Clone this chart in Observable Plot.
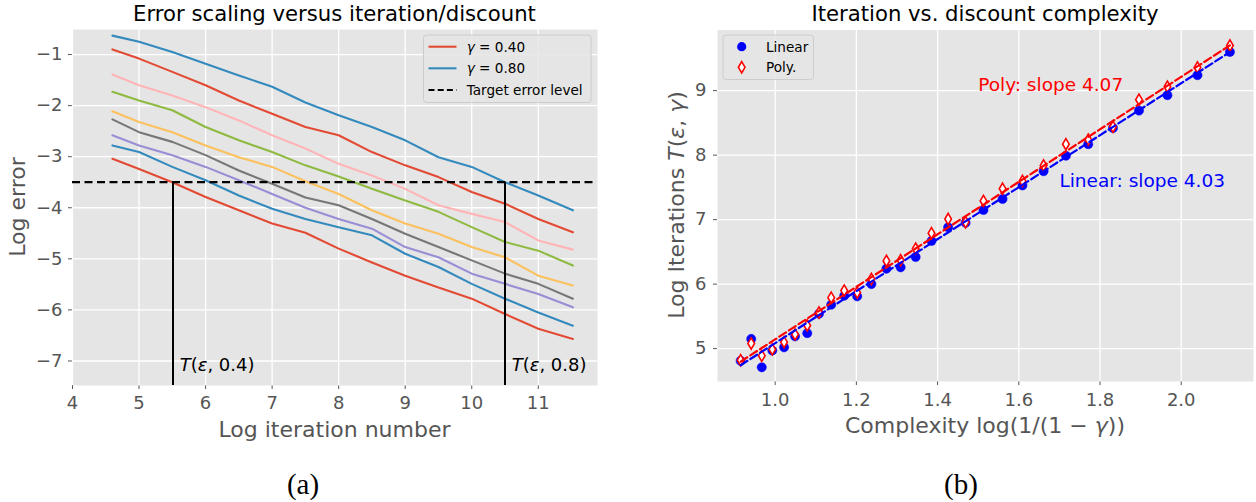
<!DOCTYPE html>
<html><head><meta charset="utf-8">
<script src="https://cdn.jsdelivr.net/npm/d3@7"></script>
<script src="https://cdn.jsdelivr.net/npm/@observablehq/plot@0.6"></script>
<style>
body{margin:0;background:#fff;font-family:"DejaVu Sans",sans-serif;}
#root{position:relative;width:1256px;height:502px;overflow:hidden;background:#fff;}
#root > svg{position:absolute;top:0;}
</style></head><body><div id="root"></div>
<script>
// ---------- Panel (a) data ----------
const xIter = [4.6, 5, 5.5, 6, 6.5, 7, 7.5, 8, 8.5, 9, 9.5, 10, 10.5, 11, 11.52];
const gammas = [0.40, 0.45, 0.50, 0.55, 0.60, 0.65, 0.70, 0.75, 0.80];
const err040 = [-3.04,-3.24,-3.50,-3.79,-4.05,-4.31,-4.49,-4.80,-5.07,-5.33,-5.56,-5.78,-6.08,-6.37,-6.57];
const err045 = [-2.78,-2.91,-3.20,-3.46,-3.76,-4.02,-4.22,-4.38,-4.54,-4.90,-5.16,-5.49,-5.78,-6.05,-6.31];
const err050 = [-2.58,-2.78,-2.97,-3.20,-3.46,-3.73,-4.00,-4.22,-4.41,-4.77,-4.97,-5.29,-5.49,-5.69,-5.95];
const err055 = [-2.27,-2.52,-2.71,-2.97,-3.27,-3.53,-3.80,-3.95,-4.22,-4.51,-4.77,-5.03,-5.29,-5.49,-5.78];
const err060 = [-2.11,-2.32,-2.52,-2.78,-3.01,-3.20,-3.48,-3.73,-4.05,-4.31,-4.51,-4.77,-4.97,-5.33,-5.52];
const err065 = [-1.73,-1.90,-2.09,-2.42,-2.68,-2.91,-3.17,-3.39,-3.63,-3.86,-4.08,-4.38,-4.67,-4.84,-5.13];
const err070 = [-1.39,-1.60,-1.80,-2.03,-2.29,-2.58,-2.84,-3.14,-3.37,-3.63,-3.95,-4.12,-4.28,-4.64,-4.82];
const err075 = [-0.90,-1.08,-1.34,-1.60,-1.90,-2.16,-2.42,-2.58,-2.91,-3.17,-3.40,-3.69,-3.92,-4.22,-4.48];
const err080 = [-0.63,-0.75,-0.95,-1.18,-1.41,-1.63,-1.94,-2.19,-2.42,-2.68,-3.01,-3.20,-3.50,-3.76,-4.05];
const targetErr = -3.5;
const crossIter = [5.51, 10.5];
const annX = [5.61, 10.6];
const annY = [-7.2, -7.2];
const annText = ["T(ε, 0.4)", "T(ε, 0.8)"];
const xTicksA = [4, 5, 6, 7, 8, 9, 10, 11];
const yTicksA = [-7, -6, -5, -4, -3, -2, -1];
const legendA = ["γ = 0.40", "γ = 0.80", "Target error level"];

// ---------- Panel (b) data ----------
const complexity = [0.915,0.941,0.967,0.993,1.022,1.049,1.079,1.108,1.138,1.170,1.202,1.237,1.274,1.309,1.346,1.385,1.426,1.469,1.513,1.560,1.609,1.661,1.716,1.771,1.832,1.896,1.966,2.040,2.120];
const itersLinear = [4.81,5.15,4.71,4.97,5.02,5.19,5.24,5.54,5.68,5.82,5.81,6.00,6.24,6.26,6.42,6.67,6.88,6.95,7.15,7.32,7.53,7.75,7.99,8.17,8.42,8.69,8.93,9.24,9.60];
const itersPoly   = [4.82,5.08,4.89,4.99,5.10,5.22,5.36,5.56,5.79,5.90,5.87,6.08,6.36,6.37,6.55,6.79,7.01,6.96,7.29,7.48,7.60,7.84,8.17,8.24,8.44,8.86,9.06,9.36,9.70];
const fitNames = ["Linear", "Poly"];
const fitSlopes = [4.03, 4.07];
const fitIntercepts = [1.055, 1.074];
const slopeTextX = [1.7, 1.5];
const slopeTextY = [7.5, 9.0];
const slopeText = ["Linear: slope 4.03", "Poly: slope 4.07"];
const xTicksB = [1.0, 1.2, 1.4, 1.6, 1.8, 2.0];
const yTicksB = [5, 6, 7, 8, 9];
const legendB = ["Linear", "Poly."];

// ---------- styles ----------
const cycle = ["#E24A33","#348ABD","#988ED5","#777777","#FBC15E","#8EBA42","#FFB5B8","#E24A33","#348ABD"];
const FONT = "DejaVu Sans";
const root = document.getElementById("root");
const intFmt = d => d3.format("d")(d).replace("-", "−");

// ---------- Panel (a) ----------
const errSeries = [err040, err045, err050, err055, err060, err065, err070, err075, err080];
const rowsA = [];
errSeries.forEach((arr, i) => arr.forEach((v, j) => rowsA.push({x: xIter[j], y: v, g: gammas[i], c: cycle[i]})));
const xDomA = [4, 11.89], yDomA = [-7.48, -0.51];

const left = Plot.plot({
  width: 640, height: 502,
  marginLeft: 72, marginRight: 43, marginTop: 29, marginBottom: 117,
  style: {fontFamily: FONT, fontSize: "18px", color: "#555", background: "transparent"},
  x: {domain: xDomA, ticks: xTicksA, tickFormat: intFmt, tickSize: 4, tickPadding: 7, label: null},
  y: {domain: yDomA, ticks: yTicksA, tickFormat: intFmt, tickSize: 4, tickPadding: 6, label: null},
  color: {type: "identity"},
  marks: [
    Plot.frame({fill: "#E5E5E5", stroke: null}),
    Plot.ruleX(xTicksA, {stroke: "white", strokeWidth: 1.3}),
    Plot.ruleY(yTicksA, {stroke: "white", strokeWidth: 1.3}),
    Plot.line(rowsA, {x: "x", y: "y", z: "g", stroke: "c", strokeWidth: 2.1}),
    Plot.ruleY([targetErr], {stroke: "black", strokeWidth: 2.2, strokeDasharray: "8,4.5"}),
    Plot.ruleX(crossIter, {y1: targetErr, y2: yDomA[0], stroke: "black", strokeWidth: 2}),
    Plot.text(annText, {x: (d, i) => annX[i], y: (d, i) => annY[i], text: d => d, textAnchor: "start", lineAnchor: "bottom", fontSize: 18, fill: "black"})
  ]
});
left.style.left = "0px";
root.appendChild(left);

// italicise math letters in annotations
d3.select(left).selectAll("text").filter(function(){ return this.textContent.startsWith("T("); }).each(function(){
  const t = this.textContent;
  const rest = t.slice(3); // ", 0.4)"
  const s = d3.select(this); s.text("");
  s.append("tspan").attr("font-style", "italic").text("T");
  s.append("tspan").text("(");
  s.append("tspan").attr("font-style", "italic").text("ε");
  s.append("tspan").text(rest);
});

// ---------- Panel (b) ----------
const ptsLin = complexity.map((x, i) => ({x, y: itersLinear[i]}));
const ptsPoly = complexity.map((x, i) => ({x, y: itersPoly[i]}));
const xMin = d3.min(complexity), xMax = d3.max(complexity);
const fitRows = [];
fitNames.forEach((n, i) => [xMin, xMax].forEach(x => fitRows.push({n, x, y: fitSlopes[i] * x + fitIntercepts[i], c: i === 0 ? "blue" : "red"})));
const thinDiamond = {
  draw(context, size) {
    const r = Math.sqrt(size / Math.PI);
    const w = r * 0.72, h = r * 1.22;
    context.moveTo(0, -h); context.lineTo(w, 0); context.lineTo(0, h); context.lineTo(-w, 0); context.closePath();
  }
};
const xDomB = [0.858, 2.178], yDomB = [4.49, 9.94];
const right = Plot.plot({
  width: 616, height: 502,
  marginLeft: 77, marginRight: 3, marginTop: 29.5, marginBottom: 121,
  style: {fontFamily: FONT, fontSize: "18px", color: "#555", background: "transparent"},
  x: {domain: xDomB, ticks: xTicksB, tickFormat: ".1f", tickSize: 4, tickPadding: 8, label: null},
  y: {domain: yDomB, ticks: yTicksB, tickFormat: "d", tickSize: 4, tickPadding: 7, label: null},
  color: {type: "identity"},
  marks: [
    Plot.frame({fill: "#E5E5E5", stroke: null}),
    Plot.ruleX(xTicksB, {stroke: "white", strokeWidth: 1.3}),
    Plot.ruleY(yTicksB, {stroke: "white", strokeWidth: 1.3}),
    Plot.dot(ptsLin, {x: "x", y: "y", r: 4.6, fill: "blue", stroke: "blue", strokeWidth: 0.5}),
    Plot.dot(ptsPoly, {x: "x", y: "y", r: 4.6, symbol: thinDiamond, fill: "white", stroke: "red", strokeWidth: 1.6}),
    Plot.line(fitRows, {x: "x", y: "y", z: "n", stroke: "c", strokeWidth: 2.2, strokeDasharray: "8,3.5"}),
    Plot.text(slopeText, {x: (d, i) => slopeTextX[i], y: (d, i) => slopeTextY[i], text: d => d, textAnchor: "start", lineAnchor: "bottom", fontSize: 18.5, fill: (d, i) => i === 0 ? "blue" : "red"})
  ]
});
right.style.left = "640px";
root.appendChild(right);

// ---------- overlay: titles, labels, captions, legends ----------
const ov = d3.select(root).append("svg").attr("width", 1256).attr("height", 502)
  .style("left", "0px").style("pointer-events", "none").attr("font-family", FONT);

function txt(x, y, size, fill, anchor, parts, rotate) {
  const t = ov.append("text").attr("x", x).attr("y", y).attr("font-size", size).attr("fill", fill).attr("text-anchor", anchor);
  if (rotate) t.attr("transform", `rotate(-90,${x},${y})`);
  parts.forEach(p => { const s = t.append("tspan").text(p[0]); if (p[1]) s.attr("font-style", "italic"); });
  return t;
}
// titles
txt(334.5, 21, 21.2, "#000", "middle", [["Error scaling versus iteration/discount"]]);
txt(985, 21, 21.2, "#000", "middle", [["Iteration vs. discount complexity"]]);
// axis labels
txt(334.5, 437, 22, "#555", "middle", [["Log iteration number"]]);
txt(985, 433, 22, "#555", "middle", [["Complexity log(1/(1 − "], ["γ", true], ["))"]]);
txt(25, 207, 22, "#555", "middle", [["Log error"]], true);
txt(684, 205, 22, "#555", "middle", [["Log Iterations "], ["T", true], ["("], ["ε", true], [", "], ["γ", true], [")"]], true);
// captions
ov.append("text").attr("x", 303).attr("y", 494).attr("font-family", "Liberation Serif").attr("font-size", 29).attr("text-anchor", "middle").attr("fill", "#000").text("(a)");
ov.append("text").attr("x", 961).attr("y", 494).attr("font-family", "Liberation Serif").attr("font-size", 29).attr("text-anchor", "middle").attr("fill", "#000").text("(b)");

// legend (a)
ov.append("rect").attr("x", 423.5).attr("y", 35).attr("width", 167.5).attr("height", 67.5).attr("rx", 3)
  .attr("fill", "#E5E5E5").attr("fill-opacity", 0.85).attr("stroke", "#cccccc").attr("stroke-width", 1);
const rowsY = [46.7, 68.3, 90];
const legStroke = [cycle[0], cycle[8], "#000"];
legendA.forEach((lab, i) => {
  ov.append("line").attr("x1", 428.5).attr("x2", 456.5).attr("y1", rowsY[i]).attr("y2", rowsY[i])
    .attr("stroke", legStroke[i]).attr("stroke-width", 2.1).attr("stroke-dasharray", i === 2 ? "6,3.2" : null);
  const t = ov.append("text").attr("x", 466.7).attr("y", rowsY[i]).attr("dy", "0.36em").attr("font-size", 13.6).attr("fill", "#000");
  if (lab.startsWith("γ")) { t.append("tspan").attr("font-style", "italic").text("γ"); t.append("tspan").text(lab.slice(1)); }
  else t.text(lab);
});
// legend (b)
ov.append("rect").attr("x", 723).attr("y", 35).attr("width", 90.5).attr("height", 44.5).attr("rx", 3)
  .attr("fill", "#E5E5E5").attr("fill-opacity", 0.85).attr("stroke", "#cccccc").attr("stroke-width", 1);
const rowsYB = [46.7, 67.3];
ov.append("circle").attr("cx", 741.7).attr("cy", rowsYB[0]).attr("r", 4.6).attr("fill", "blue");
ov.append("path").attr("transform", `translate(741.7,${rowsYB[1]})`).attr("d", d3.symbol().type(thinDiamond).size(4.6 * 4.6 * Math.PI)())
  .attr("fill", "white").attr("stroke", "red").attr("stroke-width", 1.6);
legendB.forEach((lab, i) => {
  ov.append("text").attr("x", 766).attr("y", rowsYB[i]).attr("dy", "0.36em").attr("font-size", 13.6).attr("fill", "#000").text(lab);
});
</script></body></html>
